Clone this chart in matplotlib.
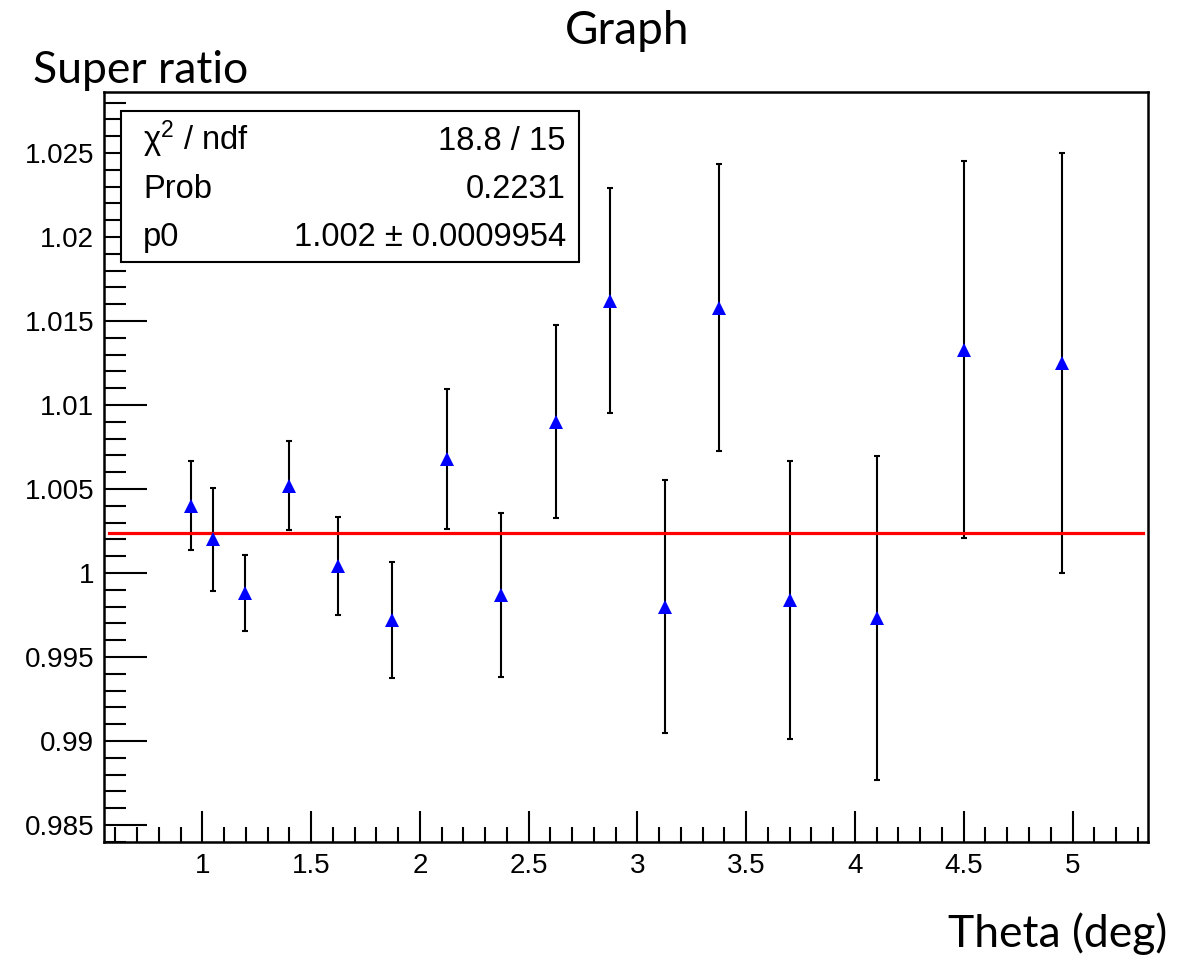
import matplotlib
matplotlib.use('Agg')
import matplotlib.pyplot as plt
from matplotlib.patches import Rectangle
from matplotlib.ticker import MultipleLocator, FuncFormatter

plt.rcParams['font.family'] = ['Liberation Sans', 'DejaVu Sans']
plt.rcParams['xtick.labelsize'] = 20
plt.rcParams['ytick.labelsize'] = 20
plt.rcParams['mathtext.fontset'] = 'custom'
plt.rcParams['mathtext.rm'] = 'Liberation Sans'
plt.rcParams['mathtext.it'] = 'Liberation Sans'

# data
theta = [0.947, 1.049, 1.198, 1.398, 1.624, 1.873, 2.125, 2.375,
         2.624, 2.874, 3.125, 3.375, 3.700, 4.100, 4.499, 4.953]
ratio = [1.0040, 1.0020, 0.9988, 1.0052, 1.0004, 0.9972, 1.0068, 0.9987,
         1.0090, 1.0162, 0.9980, 1.0158, 0.9984, 0.9973, 1.0133, 1.0125]
ratio_err = [0.00265, 0.00308, 0.00228, 0.00263, 0.00292, 0.00347, 0.00418, 0.00486,
             0.00574, 0.00670, 0.00752, 0.00854, 0.00826, 0.00964, 0.01121, 0.01248]

fit_p0 = 1.0024
fit_range = [0.57, 5.325]

stat_labels = [u'\u03c7$^{2}$ / ndf', 'Prob', 'p0']
stat_values = ['18.8 / 15', '0.2231', u'1.002 \u00b1 0.0009954']

W, H = 1195, 961
fig = plt.figure(figsize=(W / 100, H / 100), dpi=100)
ax = fig.add_axes([104 / W, 1 - 842 / H, (1148 - 104) / W, (842 - 92) / H])

ax.errorbar(theta, ratio, yerr=ratio_err, fmt='none', ecolor='black',
            elinewidth=1.5, capsize=2.2, capthick=1.5, zorder=2)
ax.plot(fit_range, [fit_p0, fit_p0], color='red', lw=2.3, zorder=3)
ax.plot(theta, ratio, ls='none', marker='^', color='blue', markersize=10,
        markeredgewidth=0, zorder=4)

ax.set_xlim(0.548, 5.347)
ax.set_ylim(0.98399, 1.02863)

ax.xaxis.set_major_locator(MultipleLocator(0.5))
ax.xaxis.set_minor_locator(MultipleLocator(0.1))
ax.yaxis.set_major_locator(MultipleLocator(0.005))
ax.yaxis.set_minor_locator(MultipleLocator(0.001))
fmt = FuncFormatter(lambda v, p: '%g' % round(v, 4))
ax.xaxis.set_major_formatter(fmt)
ax.yaxis.set_major_formatter(fmt)

for s in ax.spines.values():
    s.set_linewidth(1.8)
ax.tick_params(which='both', direction='in', top=False, right=False, width=1.5)
ax.tick_params(axis='x', which='major', length=22, pad=8)
ax.tick_params(axis='x', which='minor', length=11)
ax.tick_params(axis='y', which='major', length=31, pad=7)
ax.tick_params(axis='y', which='minor', length=16)

# titles
fig.text(627 / W, 1 - 44 / H, 'Graph', family='Lato', fontsize=33,
         ha='center', va='baseline')
fig.text(33 / W, 1 - 83 / H, 'Super ratio', family='Lato', fontsize=32,
         ha='left', va='baseline')
fig.text(1167 / W, 1 - 947 / H, 'Theta (deg)', family='Lato', fontsize=32,
         ha='right', va='baseline')

# stat box
fig.add_artist(Rectangle((121 / W, 1 - 262 / H), (579 - 121) / W, (262 - 111) / H,
                         transform=fig.transFigure, facecolor='white',
                         edgecolor='black', lw=1.5, zorder=5))
baselines = [150, 198, 246]
for lab, val, b in zip(stat_labels, stat_values, baselines):
    fig.text(143 / W, 1 - b / H, lab, fontsize=23.5,
             ha='left', va='baseline', zorder=6)
    fig.text(566 / W, 1 - b / H, val, fontsize=23.5,
             ha='right', va='baseline', zorder=6)

fig.savefig('out.png', dpi=100)
